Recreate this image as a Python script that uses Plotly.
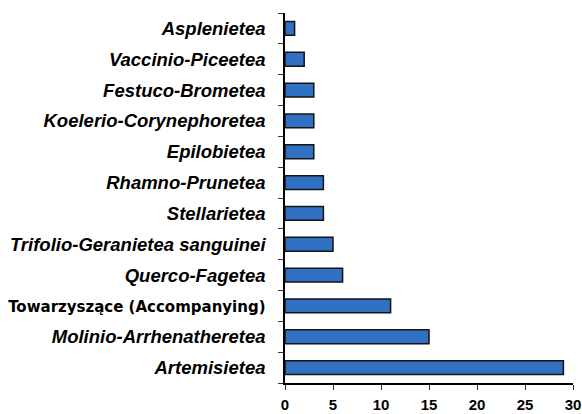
import plotly.graph_objects as go

categories = [
    "Artemisietea",
    "Molinio-Arrhenatheretea",
    "Towarzyszące (Accompanying)",
    "Querco-Fagetea",
    "Trifolio-Geranietea sanguinei",
    "Stellarietea",
    "Rhamno-Prunetea",
    "Epilobietea",
    "Koelerio-Corynephoretea",
    "Festuco-Brometea",
    "Vaccinio-Piceetea",
    "Asplenietea",
]
values = [29, 15, 11, 6, 5, 4, 4, 3, 3, 3, 2, 1]
italic_flags = [True, True, False, True, True, True, True, True, True, True, True, True]
x_ticks = [0, 5, 10, 15, 20, 25, 30]

tick_text = []
for c, it in zip(categories, italic_flags):
    if it:
        tick_text.append(f"<b><i>{c}</i></b>")
    else:
        tick_text.append(f"<span style='font-family:DejaVu Sans;font-size:15px'><b>{c}</b></span>")

fig = go.Figure(
    go.Bar(
        x=values,
        y=categories,
        orientation="h",
        width=0.45,
        marker=dict(color="#3070C2", line=dict(color="#141414", width=1.5)),
        hoverinfo="skip",
    )
)

fig.update_layout(
    width=582,
    height=414,
    margin=dict(l=285, r=9, t=13, b=31),
    paper_bgcolor="white",
    plot_bgcolor="white",
    showlegend=False,
    font=dict(family="Liberation Sans", color="black"),
)

fig.update_yaxes(
    type="category",
    categoryorder="array",
    categoryarray=categories,
    tickvals=categories,
    ticktext=tick_text,
    tickson="boundaries",
    ticks="outside",
    ticklen=5,
    tickcolor="#333",
    showline=True,
    linecolor="black",
    linewidth=1.5,
    showgrid=False,
    automargin=False,
    tickfont=dict(family="Liberation Sans", size=18.5, color="black"),
    ticklabelstandoff=14,
)

fig.update_xaxes(
    range=[0, 30],
    tickvals=x_ticks,
    ticktext=[f"<b>{v}</b>" for v in x_ticks],
    ticks="outside",
    ticklen=5,
    tickcolor="#333",
    showline=True,
    linecolor="black",
    linewidth=1.5,
    showgrid=False,
    zeroline=False,
    automargin=False,
    ticklabeloverflow="allow",
    tickfont=dict(family="Liberation Sans", size=15, color="black"),
    ticklabelstandoff=2,
)

fig.write_html(
    "out.html",
    config={"displayModeBar": False},
    post_script="document.body.style.margin='0';document.body.style.overflow='hidden';",
)
